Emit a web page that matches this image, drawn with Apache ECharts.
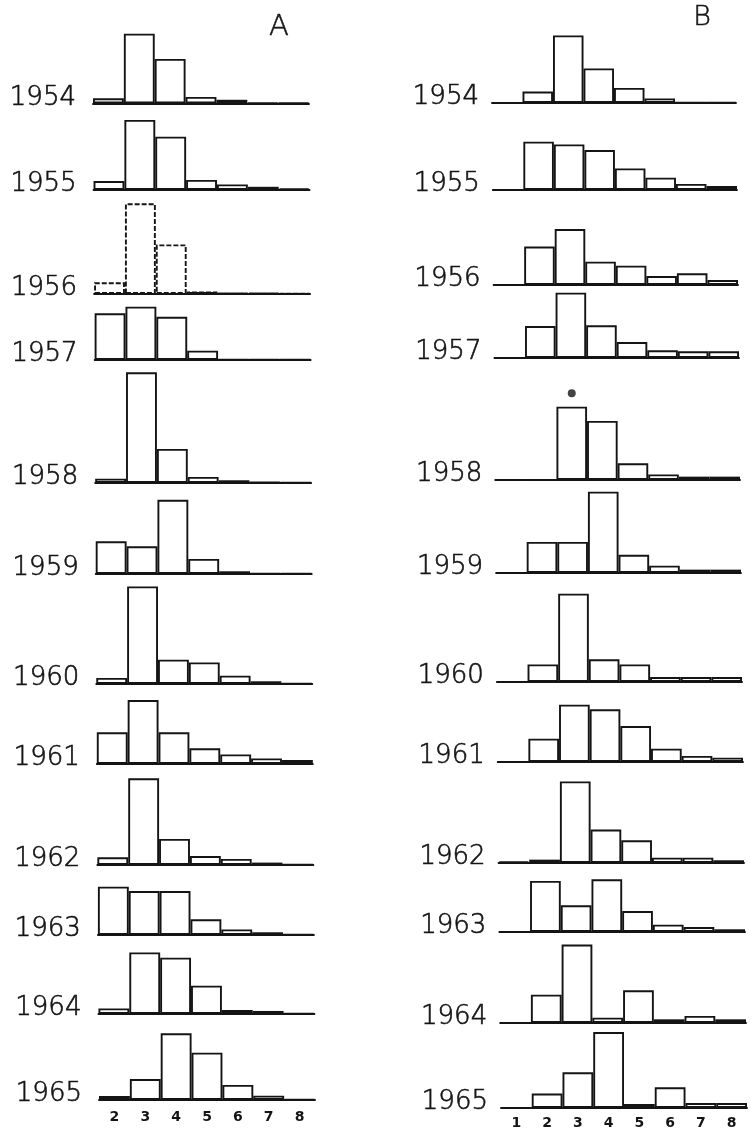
<!DOCTYPE html>
<html><head><meta charset="utf-8">
<script src="https://cdn.jsdelivr.net/npm/echarts@6/dist/echarts.min.js"></script>
<style>html,body{margin:0;padding:0;background:#fff}#c{width:750px;height:1132px}</style>
</head><body><div id="c"></div>
<script>
// ---- data (percent of catch per class) ----
const years = [1954,1955,1956,1957,1958,1959,1960,1961,1962,1963,1964,1965];
const binsA = ['2','3','4','5','6','7','8'];
const binsB = ['1','2','3','4','5','6','7','8'];
const valuesA1954 = [3.8, 50.6, 32.3, 4.8, 2.7, 0.5, 0.4];
const valuesA1955 = [5.6, 43.8, 33.3, 6.3, 3.5, 2.0, 1.0];
const valuesA1956 = [7.3, 56.7, 31.0, 1.5, 0.8, 0.8, 0.5];
const valuesA1957 = [29.2, 33.3, 27.0, 5.8, 0.4, 0.4, 0.4];
const valuesA1958 = [2.7, 69.2, 21.3, 3.8, 1.7, 0.6, 0.3];
const valuesA1959 = [20.4, 17.3, 46.4, 9.4, 1.7, 0.5, 0.3];
const valuesA1960 = [3.8, 61.0, 15.2, 13.5, 5.2, 1.7, 0.5];
const valuesA1961 = [19.8, 40.0, 19.8, 9.8, 6.0, 3.5, 2.5];
const valuesA1962 = [4.8, 54.2, 16.3, 5.6, 3.8, 1.5, 0.3];
const valuesA1963 = [30.2, 27.5, 27.5, 9.8, 3.5, 1.7, 0.5];
const valuesA1964 = [3.5, 38.5, 35.2, 17.7, 2.5, 1.9, 0.5];
const valuesA1965 = [2.5, 13.1, 41.7, 29.6, 9.4, 2.7, 0.5];
const valuesB1954 = [0, 8.3, 49.2, 25.2, 11.0, 3.3, 0.3, 0.3];
const valuesB1955 = [0, 30.2, 28.5, 25.0, 13.5, 7.7, 3.8, 2.5];
const valuesB1956 = [0, 24.0, 35.0, 14.6, 12.1, 5.6, 7.3, 3.1];
const valuesB1957 = [0, 20.0, 40.8, 20.4, 10.0, 4.8, 4.2, 4.2];
const valuesB1958 = [0, 0, 45.8, 36.9, 10.4, 3.5, 2.1, 2.1];
const valuesB1959 = [0, 19.4, 19.4, 50.8, 11.4, 4.6, 2.1, 2.1];
const valuesB1960 = [0, 11.0, 55.2, 14.2, 11.0, 3.1, 3.1, 3.1];
const valuesB1961 = [0, 14.6, 35.8, 32.9, 22.5, 8.3, 3.8, 2.7];
const valuesB1962 = [1.0, 2.1, 51.0, 20.9, 14.2, 3.3, 3.3, 1.7];
const valuesB1963 = [0, 31.9, 16.7, 32.9, 13.1, 4.6, 3.1, 1.7];
const valuesB1964 = [0, 17.7, 49.0, 3.3, 20.4, 2.3, 4.4, 2.3];
const valuesB1965 = [0, 9.0, 22.3, 47.5, 2.5, 12.9, 3.1, 3.1];
const markB1958 = ['3', 54.2];   // dot above class 3 in B 1958
const panelTitles = ['A', 'B'];

const valuesA = [valuesA1954,valuesA1955,valuesA1956,valuesA1957,valuesA1958,valuesA1959,
                 valuesA1960,valuesA1961,valuesA1962,valuesA1963,valuesA1964,valuesA1965];
const valuesB = [valuesB1954,valuesB1955,valuesB1956,valuesB1957,valuesB1958,valuesB1959,
                 valuesB1960,valuesB1961,valuesB1962,valuesB1963,valuesB1964,valuesB1965];

// ---- layout ----
const baseA = [103.5, 190, 294, 360, 483, 574, 684, 764, 865, 935, 1014, 1100];
const baseB = [103, 190, 285, 358, 480, 573, 682, 762, 863, 932, 1023, 1108];
const PX = 1.6, H = 120, YMAX = H / PX;
const INK = '#141414';
const FONT = "'DejaVu Sans', sans-serif";

const grid = [], xAxis = [], yAxis = [], series = [], graphic = [];
function addPanel(left, width, base, cats, vals, showLabels, dashed, year, labelGap, tickMargin) {
  const k = grid.length;
  grid.push({left: left, width: width, top: base - H, height: H});
  xAxis.push({type: 'category', gridIndex: k, data: cats, boundaryGap: true,
    axisTick: {show: false},
    axisLine: {lineStyle: {color: INK, width: 1.9}},
    axisLabel: {show: showLabels, color: INK, fontFamily: FONT, fontWeight: 'bold', fontSize: 14, margin: tickMargin}});
  yAxis.push({type: 'value', gridIndex: k, min: 0, max: YMAX, show: false});
  series.push({type: 'bar', xAxisIndex: k, yAxisIndex: k, data: vals, barCategoryGap: '0%',
    silent: true,
    itemStyle: {color: 'rgba(255,255,255,0)', borderColor: INK, borderWidth: 1.9,
      borderType: dashed ? [5, 2] : 'solid'}});
  graphic.push({type: 'text', x: left - labelGap, y: base - 5.5,
    style: {text: String(year), fill: INK, stroke: INK, lineWidth: 0.6, font: "300 26px " + FONT,
      textAlign: 'right', textVerticalAlign: 'middle'}});
  return k;
}
for (let i = 0; i < years.length; i++) {
  addPanel(93 + 6 * i / 11, 216, baseA[i], binsA, valuesA[i], i === years.length - 1, years[i] === 1956, years[i], 17, 10);
}
let k58 = -1;
for (let i = 0; i < years.length; i++) {
  const k = addPanel(492 + 9 * i / 11, 244 + 2 * i / 11, baseB[i], binsB, valuesB[i], i === years.length - 1, false, years[i], 13, 8);
  if (years[i] === 1958) k58 = k;
}
series.push({type: 'scatter', xAxisIndex: k58, yAxisIndex: k58, data: [markB1958],
  symbolSize: 8, itemStyle: {color: INK}, silent: true});
graphic.push({type: 'text', x: 279, y: 27, style: {text: panelTitles[0], fill: INK, stroke: INK, lineWidth: 0.5, font: "300 29px " + FONT, textAlign: 'center', textVerticalAlign: 'middle'}});
graphic.push({type: 'text', x: 702, y: 18, style: {text: panelTitles[1], fill: INK, stroke: INK, lineWidth: 0.5, font: "300 27px " + FONT, textAlign: 'center', textVerticalAlign: 'middle'}});

const chart = echarts.init(document.getElementById('c'), null, {renderer: 'canvas'});
chart.setOption({animation: false, backgroundColor: '#fff', grid, xAxis, yAxis, series, graphic});
</script></body></html>
